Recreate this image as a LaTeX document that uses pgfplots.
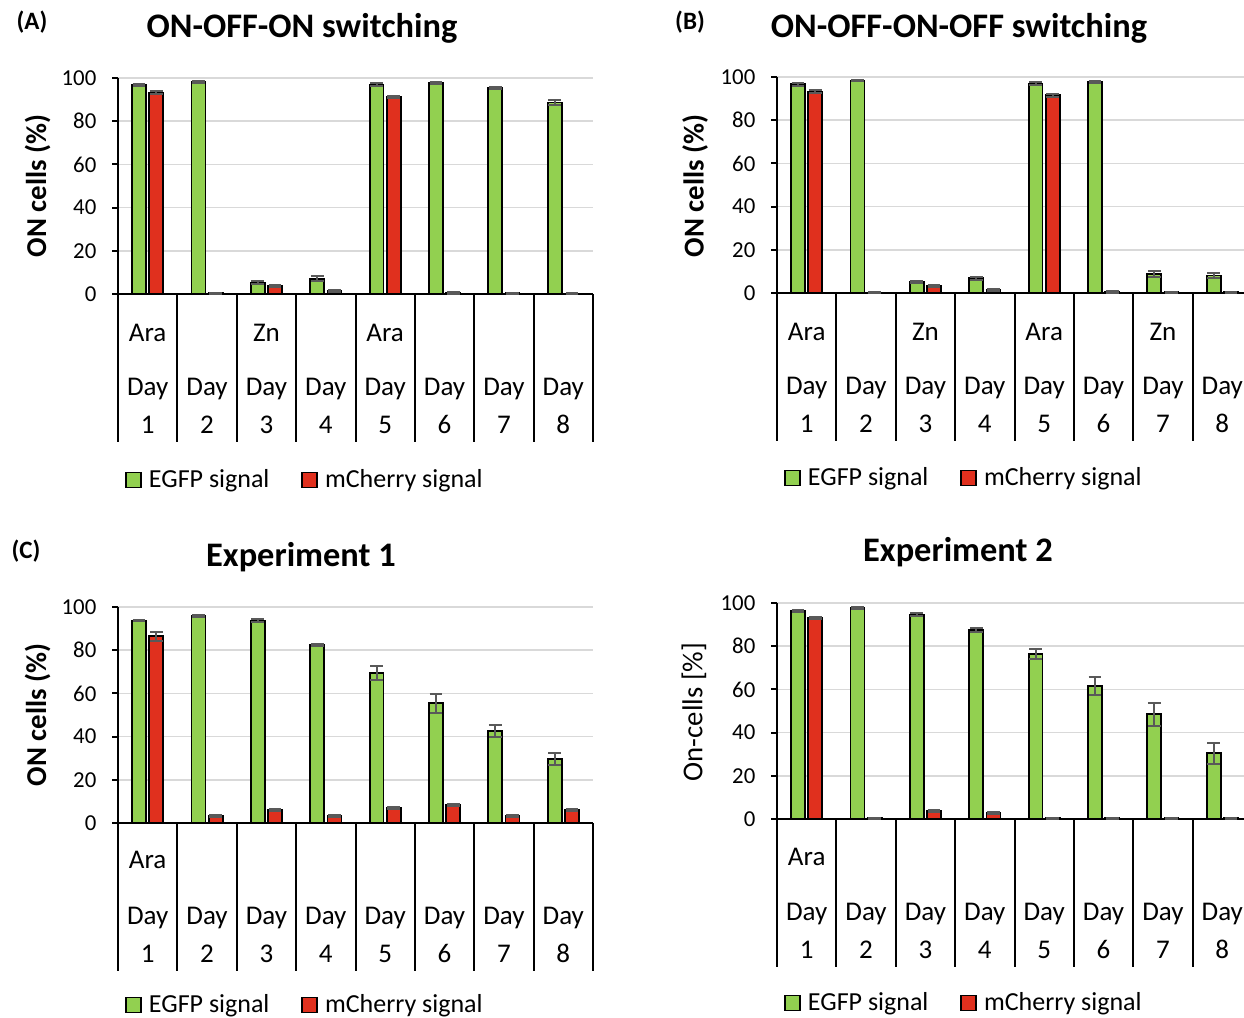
\documentclass[border=0pt]{standalone}
\usepackage{pgfplots}
\pgfplotsset{compat=1.18}
\usepackage{pgfplotstable}
\usepackage{fontspec}
\setmainfont{Carlito}
\definecolor{egfp}{RGB}{146,208,80}
\definecolor{mch}{RGB}{224,48,30}
\definecolor{errg}{RGB}{89,89,89}
\definecolor{gridg}{RGB}{217,217,217}

\pgfplotstableread{
x g ge r re
0 96.8 0.6 93.2 0.6
1 98.3 0.4 0.3 0.2
2 5.3 0.7 3.7 0.5
3 7.1 1.2 1.4 0.4
4 97.0 0.6 91.3 0.6
5 97.8 0.5 0.5 0.3
6 95.5 0.5 0.4 0.2
7 88.7 1.2 0.2 0.2
}\dataA
\pgfplotstableread{
x g ge r re
0 96.6 0.6 93.3 0.6
1 98.4 0.4 0.2 0.2
2 5.1 0.6 3.4 0.5
3 6.8 0.8 1.4 0.4
4 96.9 0.6 91.5 0.6
5 97.8 0.4 0.5 0.3
6 8.8 1.3 0.3 0.2
7 8.1 1.3 0.3 0.2
}\dataB
\pgfplotstableread{
x g ge r re
0 93.7 0.4 86.4 2.2
1 96.0 0.4 3.4 0.4
2 93.7 0.8 5.9 0.4
3 82.6 0.5 3.4 0.4
4 69.4 3.4 6.8 0.4
5 55.4 4.3 8.2 0.4
6 42.6 2.9 3.1 0.4
7 29.6 2.8 6.0 0.4
}\dataC
\pgfplotstableread{
x g ge r re
0 96.3 0.4 92.9 0.5
1 97.7 0.4 0.3 0.2
2 94.6 0.7 3.9 0.5
3 87.4 1.0 2.6 0.5
4 76.3 2.3 0.3 0.2
5 61.6 4.0 0.3 0.2
6 48.5 5.4 0.3 0.2
7 30.4 5.0 0.3 0.2
}\dataD

\newcommand{\catfont}{\fontsize{13.5}{15}\selectfont}
\newcommand{\catgrid}{%
  \pgfplotsinvokeforeach{-0.5,0.5,1.5,2.5,3.5,4.5,5.5,6.5,7.5}{\draw[line width=1pt,black] (axis cs:##1,0) -- (axis cs:##1,-68.7);}
  \node[font=\catfont] at (axis cs:0,-44) {Day}; \node[font=\catfont] at (axis cs:0,-60.4) {1};
  \node[font=\catfont] at (axis cs:1,-44) {Day}; \node[font=\catfont] at (axis cs:1,-60.4) {2};
  \node[font=\catfont] at (axis cs:2,-44) {Day}; \node[font=\catfont] at (axis cs:2,-60.4) {3};
  \node[font=\catfont] at (axis cs:3,-44) {Day}; \node[font=\catfont] at (axis cs:3,-60.4) {4};
  \node[font=\catfont] at (axis cs:4,-44) {Day}; \node[font=\catfont] at (axis cs:4,-60.4) {5};
  \node[font=\catfont] at (axis cs:5,-44) {Day}; \node[font=\catfont] at (axis cs:5,-60.4) {6};
  \node[font=\catfont] at (axis cs:6,-44) {Day}; \node[font=\catfont] at (axis cs:6,-60.4) {7};
  \node[font=\catfont] at (axis cs:7,-44) {Day}; \node[font=\catfont] at (axis cs:7,-60.4) {8};
}
\newcommand{\bars}[1]{%
  \addplot[fill=egfp, draw=black, line width=0.9pt, bar shift=-0.145,
    error bars/.cd, y dir=both, y explicit,
    error bar style={errg, line width=1pt},
    error mark options={rotate=90, errg, line width=1pt, mark size=3.2pt}]
    table[x=x, y=g, y error=ge] {#1};
  \addplot[fill=mch, draw=black, line width=0.9pt, bar shift=0.145,
    error bars/.cd, y dir=both, y explicit,
    error bar style={errg, line width=1pt},
    error mark options={rotate=90, errg, line width=1pt, mark size=3.2pt}]
    table[x=x, y=r, y error=re] {#1};
  \legend{EGFP signal, mCherry signal}
}

\pgfplotsset{
  panel/.style={
    scale only axis, width=237.5pt, height=108pt,
    anchor=south west,
    xmin=-0.5, xmax=7.5, ymin=0, ymax=100,
    ytick={0,20,40,60,80,100}, xtick=\empty,
    axis x line*=bottom, axis y line*=left,
    axis line style={line width=1pt, black, -},
    ymajorgrids, grid style={gridg, line width=0.8pt},
    tick align=outside, major tick length=3pt,
    ytick style={black, line width=1pt},
    yticklabel style={font=\fontsize{11.4}{13}\selectfont, xshift=-4.3pt},
    /pgf/number format/assume math mode=true,
    ybar, bar width=0.235,
    clip=false,
    legend image code/.code={\draw[##1, line width=0.8pt] (0pt,-3.75pt) rectangle (7.5pt,3.75pt);},
    legend style={at={(axis description cs:0.0147,#1)}, anchor=west, draw=none, fill=none,
      legend columns=2, font=\fontsize{13}{15}\selectfont, inner sep=0pt,
      nodes={inner sep=0pt},
      /tikz/every odd column/.append style={column sep=3.5pt},
      /tikz/every even column/.append style={column sep=16pt}},
    legend cell align=left,
  },
}

\begin{document}
\begin{tikzpicture}
\path[use as bounding box] (0,0) rectangle (622pt,-509pt);

% (A)
\begin{axis}[panel=-0.861, at={(59pt,-147pt)}]
\bars{\dataA}
\catgrid
\node[font=\catfont] at (axis cs:0,-17.8) {Ara};
\node[font=\catfont] at (axis cs:2,-17.8) {Zn};
\node[font=\catfont] at (axis cs:4,-17.8) {Ara};
\end{axis}

% (B)
\begin{axis}[panel=-0.856, at={(388.5pt,-146.5pt)}]
\bars{\dataB}
\catgrid
\node[font=\catfont] at (axis cs:0,-17.8) {Ara};
\node[font=\catfont] at (axis cs:2,-17.8) {Zn};
\node[font=\catfont] at (axis cs:4,-17.8) {Ara};
\node[font=\catfont] at (axis cs:6,-17.8) {Zn};
\end{axis}

% (C)
\begin{axis}[panel=-0.843, at={(59pt,-411.5pt)}]
\bars{\dataC}
\catgrid
\node[font=\catfont] at (axis cs:0,-17.3) {Ara};
\end{axis}

% (D)
\begin{axis}[panel=-0.852, at={(388.5pt,-409.5pt)}]
\bars{\dataD}
\catgrid
\node[font=\catfont] at (axis cs:0,-17.5) {Ara};
\end{axis}

% titles and labels
\node[font=\bfseries\fontsize{17.2}{20}\selectfont] at (151pt,-14pt) {ON-OFF-ON switching};
\node[font=\bfseries\fontsize{17.2}{20}\selectfont] at (479.5pt,-14pt) {ON-OFF-ON-OFF switching};
\node[font=\bfseries\fontsize{17.2}{20}\selectfont] at (150.5pt,-278.5pt) {Experiment 1};
\node[font=\bfseries\fontsize{17.2}{20}\selectfont] at (479pt,-276pt) {Experiment 2};
\node[font=\bfseries\fontsize{12.5}{14}\selectfont] at (16pt,-11pt) {(A)};
\node[font=\bfseries\fontsize{12.5}{14}\selectfont] at (345pt,-11pt) {(B)};
\node[font=\bfseries\fontsize{12.5}{14}\selectfont] at (13pt,-275.5pt) {(C)};
\node[font=\bfseries\fontsize{14.4}{16}\selectfont, rotate=90] at (18.8pt,-93pt) {ON cells (\%)};
\node[font=\bfseries\fontsize{14.4}{16}\selectfont, rotate=90] at (347.5pt,-93pt) {ON cells (\%)};
\node[font=\bfseries\fontsize{14.4}{16}\selectfont, rotate=90] at (18.8pt,-357.5pt) {ON cells (\%)};
\node[font=\fontsize{14.4}{16}\selectfont, rotate=90] at (347pt,-356pt) {On-cells [\%]};
\end{tikzpicture}
\end{document}
